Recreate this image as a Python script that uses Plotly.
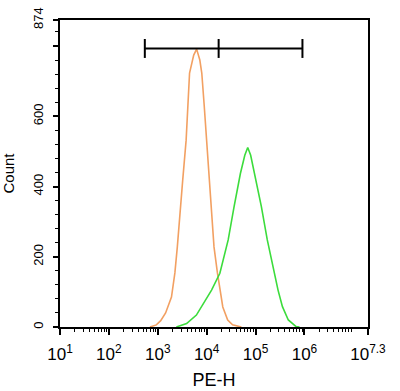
import plotly.graph_objects as go

# ---- data (log10 of PE-H, count) ----
orange_log10 = [2.84, 2.97, 3.06, 3.16, 3.28, 3.35, 3.40, 3.46, 3.51, 3.58, 3.65, 3.735, 3.795,
                3.86, 3.90, 3.95, 4.00, 4.05, 4.10, 4.15, 4.22, 4.29, 4.33, 4.43, 4.53, 4.71]
orange_count = [0, 6, 18, 40, 85, 154, 228, 342, 418, 532, 723, 774, 791,
                760, 723, 630, 532, 430, 342, 228, 154, 85, 57, 20, 6, 0]

green_log10 = [3.38, 3.59, 3.79, 3.88, 3.96, 4.10, 4.27, 4.44, 4.56, 4.69, 4.78, 4.84,
               4.90, 4.98, 5.12, 5.24, 5.38, 5.46, 5.55, 5.67, 5.83, 5.90]
green_count = [0, 10, 34, 55, 71, 105, 153, 248, 342, 437, 489, 511,
               489, 437, 342, 248, 153, 105, 58, 20, 1, 0]

# gate marker (log10 positions, count level, cap half height)
gate_log10 = [2.735, 4.245, 5.959]
gate_level = 793
gate_cap = 27

tick_exponents = [1, 2, 3, 4, 5, 6, 7.3]
tick_labels = ["10<sup>1</sup>", "10<sup>2</sup>", "10<sup>3</sup>", "10<sup>4</sup>",
               "10<sup>5</sup>", "10<sup>6</sup>", "10<sup>7.3</sup>"]
y_tickvals = [0, 200, 400, 600, 800, 874]
y_ticktext = ["0", "200", "400", "600", "", "874"]

fig = go.Figure()
fig.add_trace(go.Scatter(x=[10 ** v for v in orange_log10], y=orange_count, mode="lines",
                         line=dict(color="#F2A062", width=1.6), hoverinfo="skip"))
fig.add_trace(go.Scatter(x=[10 ** v for v in green_log10], y=green_count, mode="lines",
                         line=dict(color="#3CDC3C", width=1.6), hoverinfo="skip"))

gx, gy = [], []
gx += [10 ** gate_log10[0], 10 ** gate_log10[-1], None]
gy += [gate_level, gate_level, None]
for g in gate_log10:
    gx += [10 ** g, 10 ** g, None]
    gy += [gate_level - gate_cap, gate_level + gate_cap, None]
fig.add_trace(go.Scatter(x=gx, y=gy, mode="lines", line=dict(color="black", width=2),
                         hoverinfo="skip"))

minor_vals = [k * 10 ** d for d in range(1, 8) for k in range(2, 10) if k * 10 ** d < 10 ** 7.3]

fig.update_layout(
    width=400, height=391,
    margin=dict(l=60, r=32, t=20, b=64),
    paper_bgcolor="white", plot_bgcolor="white",
    showlegend=False,
    font=dict(family="Liberation Sans, Arial, sans-serif", color="black"),
    xaxis=dict(type="log", range=[1, 7.3], showgrid=False, zeroline=False, automargin=False,
               showline=True, linecolor="black", linewidth=1.5, mirror=True,
               tickmode="array", tickvals=[10 ** e for e in tick_exponents], ticktext=tick_labels,
               ticks="outside", ticklen=6, tickwidth=1.5, tickcolor="black",
               tickfont=dict(size=17), ticklabelstandoff=5, ticklabeloverflow="allow",
               minor=dict(tickmode="array", tickvals=minor_vals, ticks="outside",
                          ticklen=3, tickwidth=1, tickcolor="black"),
               title=dict(text="PE-H", font=dict(size=18), standoff=10)),
    yaxis=dict(range=[0, 874], showgrid=False, zeroline=False, automargin=False,
               showline=True, linecolor="black", linewidth=1.5, mirror=True,
               tickmode="array", tickvals=y_tickvals, ticktext=y_ticktext,
               ticks="outside", ticklen=5, tickwidth=1.5, tickcolor="black",
               tickangle=-90, tickfont=dict(size=13), ticklabelstandoff=5,
               ticklabeloverflow="allow",
               minor=dict(dtick=40, tick0=0, ticks="outside", ticklen=3, tickwidth=1,
                          tickcolor="black"),
               title=dict(text="Count", font=dict(size=15), standoff=14)),
)

fig.write_html("out.html", config={"displayModeBar": False},
               post_script="document.body.style.margin='0px';")
